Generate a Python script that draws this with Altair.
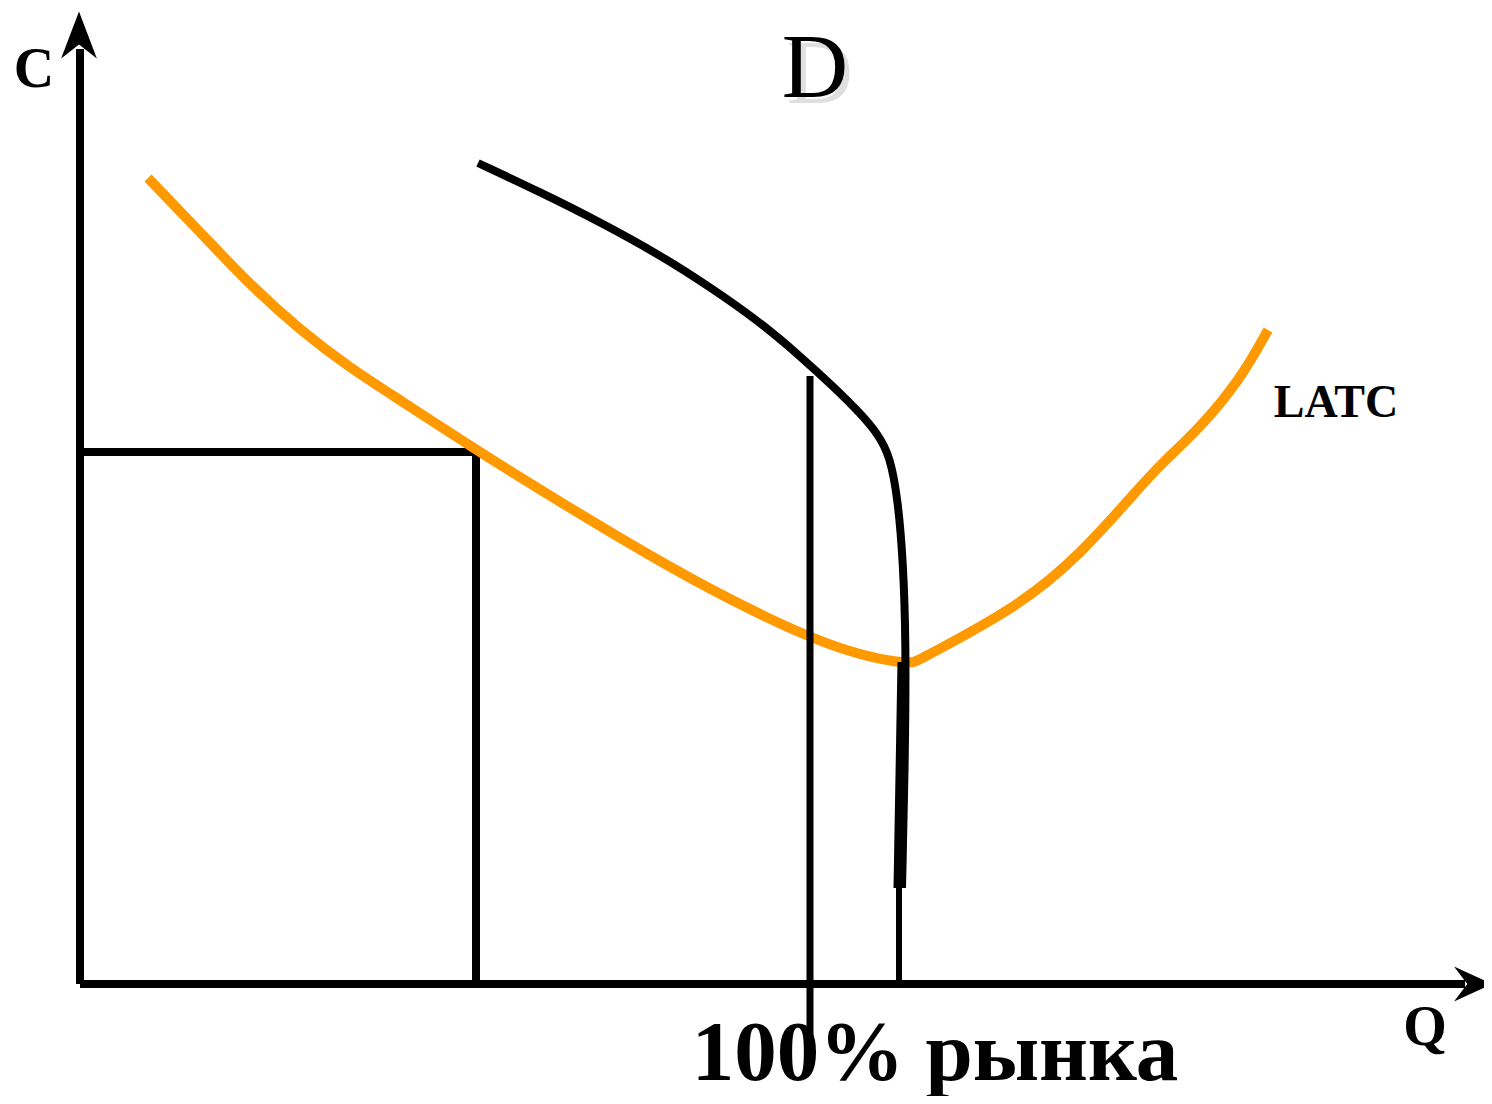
import altair as alt
import pandas as pd

# ---- data (Q = quantity, C = cost) ----
latc_q = [68, 120, 170, 220, 270, 320, 390, 480, 570, 650, 730, 780, 820, 835, 835, 940, 1000, 1060, 1080, 1120, 1160, 1188]
latc_c = [806, 752, 699, 654, 616, 584, 538, 482, 428, 384, 346, 329, 321, 322, 322, 378, 429, 497, 519, 556, 604, 654]

demand_q = [398, 460, 520, 580, 630, 680, 720, 755, 780, 798, 810, 818, 823, 826, 825, 822]
demand_c = [821, 792, 762, 729, 697, 662, 628, 596, 571, 550, 528, 484, 424, 344, 224, 96]

# thick lower piece of the demand curve and thin drop to the Q axis
demand_tail_q = [823, 819]
demand_tail_c = [322, 96]
drop_q = [819, 819]
drop_c = [96, 4]

# firm's box: price level and output
box_q = [2, 396, 396]
box_c = [532, 532, 4]

# 100% market line
market_q = [730, 730]
market_c = [608, -56]

# axes
yaxis_q = [0, 0]
yaxis_c = [0, 935]
xaxis_q = [0, 1385]
xaxis_c = [0, 0]

labels = ["C", "D", "LATC", "Q", "100% рынка"]

XD = [-72, 1404]
YD = [-112, 976]


def line_df(q, c):
    return pd.DataFrame({"q": q, "c": c, "o": list(range(len(q)))})


def xy():
    return dict(
        x=alt.X("q:Q", scale=alt.Scale(domain=XD), axis=None),
        y=alt.Y("c:Q", scale=alt.Scale(domain=YD), axis=None),
    )


def line(q, c, color, width, interp="linear", cap="butt", join="round"):
    return alt.Chart(line_df(q, c)).mark_line(
        color=color, strokeWidth=width, interpolate=interp, strokeCap=cap,
        strokeJoin=join, clip=False
    ).encode(order="o:Q", **xy())


layers = []
layers.append(line(yaxis_q, yaxis_c, "black", 8))
layers.append(line(xaxis_q, xaxis_c, "black", 8))
layers.append(line(box_q, box_c, "black", 8, cap="square", join="miter"))
layers.append(line(latc_q, latc_c, "#FF9900", 10, interp="basis"))
layers.append(line(market_q, market_c, "black", 7))
layers.append(line(demand_q, demand_c, "black", 8, interp="basis"))
layers.append(line(demand_tail_q, demand_tail_c, "black", 11))
layers.append(line(drop_q, drop_c, "black", 6))

# arrow heads
up = pd.DataFrame({"q": [-1], "c": [949]})
layers.append(
    alt.Chart(up).mark_point(
        shape="M0,-1 L0.76,1 L0,0.4 L-0.76,1 Z", filled=True, color="black",
        size=2209, opacity=1, strokeWidth=0,
    ).encode(**xy())
)
right = pd.DataFrame({"q": [1393], "c": [0]})
layers.append(
    alt.Chart(right).mark_point(
        shape="M1,0 L-1,-0.92 L-0.3,0 L-1,0.92 Z", filled=True, color="black",
        size=1444, opacity=1, strokeWidth=0,
    ).encode(**xy())
)


def label(text, q, c, size, weight="bold", color="black", dx=0, dy=0, opacity=1.0):
    df = pd.DataFrame({"q": [q], "c": [c], "t": [text]})
    return alt.Chart(df).mark_text(
        font="Liberation Serif", fontSize=size, fontWeight=weight, color=color,
        align="center", baseline="alphabetic", dx=dx, dy=dy, opacity=opacity,
    ).encode(text="t:N", **xy())


layers.append(label(labels[0], -46, 897, 56))
layers.append(label(labels[1], 735, 887, 92, weight="normal", color="#999999", dx=5, dy=6, opacity=0.3))
layers.append(label(labels[1], 735, 887, 92, weight="normal"))
layers.append(label(labels[2], 1256, 567, 46))
layers.append(label(labels[3], 1345, -61, 56))
layers.append(label(labels[4], 855, -96, 85))

chart = alt.layer(*layers).properties(
    width=1476, height=1088, padding=0, autosize=alt.AutoSizeParams(type="none"),
    background="white",
).configure_view(stroke=None)

chart.save("out.html", embed_options={"renderer": "svg", "actions": False})
